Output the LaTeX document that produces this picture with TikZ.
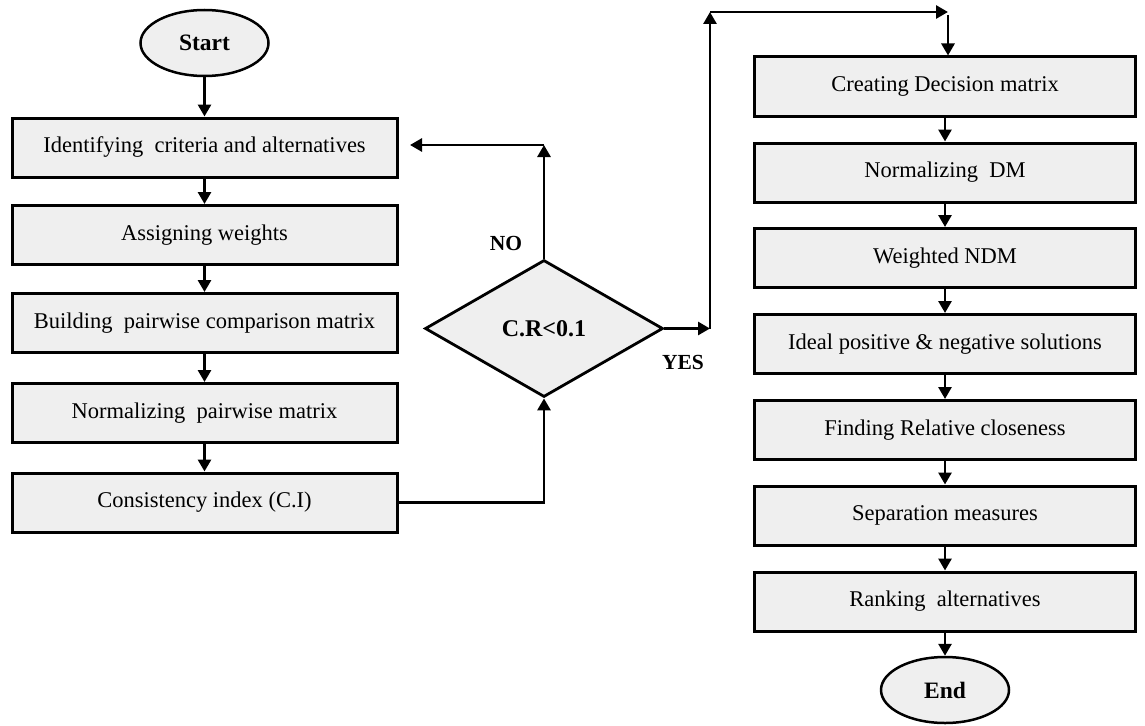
\documentclass[tikz,border=0pt]{standalone}
\usepackage{fontspec}
\setmainfont{Liberation Serif}
\usetikzlibrary{shapes.geometric,arrows.meta}
\definecolor{boxfill}{HTML}{EFEFEF}
\begin{document}
\begin{tikzpicture}[x=1pt,y=-1pt,
  procbox/.style={draw=black,line width=3pt,fill=boxfill,inner sep=0pt,
    minimum height=59pt,font=\fontsize{22.5}{26}\selectfont},
  leftbox/.style={procbox,minimum width=385pt},
  rightbox/.style={procbox,minimum width=381pt},
  term/.style={draw=black,line width=2.5pt,fill=boxfill,ellipse,inner sep=0pt,
    minimum width=128pt,minimum height=66pt,font=\fontsize{23.5}{27}\selectfont\bfseries},
  decision/.style={draw=black,line width=2.8pt,fill=boxfill,diamond,inner sep=0pt,
    aspect=1.737,minimum width=238pt,minimum height=137pt,font=\fontsize{24}{28}\selectfont\bfseries},
  lbl/.style={font=\fontsize{21.5}{25}\selectfont\bfseries},
  arr/.style={line width=2.8pt,-{Triangle[length=12pt,width=13pt]}},
  ln/.style={line width=2.8pt}]
\useasboundingbox (0,0) rectangle (1145,725);
% left column
\node[term] (start) at (204.5,43) {Start};
\node[leftbox] (b1) at (204.5,147.5) {Identifying\ \ criteria and alternatives};
\node[leftbox] (b2) at (204.5,235) {Assigning weights};
\node[leftbox] (b3) at (204.5,323) {Building\ \ pairwise comparison matrix};
\node[leftbox] (b4) at (204.5,413) {Normalizing\ \ pairwise matrix};
\node[leftbox] (b5) at (204.5,502.5) {Consistency index (C.I)};
% decision
\node[decision] (dia) at (544,328.5) {C.R{<}0.1};
\node[lbl] (no) at (506,243) {NO};
\node[lbl] (yes) at (683,362) {YES};
% right column
\node[rightbox] (r1) at (945,86.5) {Creating Decision matrix};
\node[rightbox] (r2) at (945,172.5) {Normalizing\ \ DM};
\node[rightbox] (r3) at (945,258) {Weighted NDM};
\node[rightbox] (r4) at (945,344) {Ideal positive \& negative solutions};
\node[rightbox] (r5) at (945,430) {Finding Relative closeness};
\node[rightbox] (r6) at (945,515.5) {Separation measures};
\node[rightbox] (r7) at (945,601.5) {Ranking\ \ alternatives};
\node[term] (end) at (945,690) {End};
% coordinates
\coordinate (cno) at (544,145);
\coordinate (noend) at (410,145);
\coordinate (yesend) at (710,328.5);
\coordinate (ctop) at (710,12);
\coordinate (ctr) at (948,12);
\coordinate (cdown) at (948,15);
% connectors left
\draw[arr] (start.south) -- (b1.north);
\draw[arr] (b1.south) -- (b2.north);
\draw[arr] (b2.south) -- (b3.north);
\draw[arr] (b3.south) -- (b4.north);
\draw[arr] (b4.south) -- (b5.north);
\draw[arr] (b5.east) -| (dia.south);
\draw[arr] (dia.north) -- (cno);
\draw[arr] (cno) -- (noend);
\draw[arr] (dia.east) -- (yesend);
\draw[arr] (yesend) -- (ctop);
\draw[arr] (ctop) -- (ctr);
\draw[arr] (cdown) -- (cdown |- r1.north);
% connectors right
\draw[arr] (r1.south) -- (r2.north);
\draw[arr] (r2.south) -- (r3.north);
\draw[arr] (r3.south) -- (r4.north);
\draw[arr] (r4.south) -- (r5.north);
\draw[arr] (r5.south) -- (r6.north);
\draw[arr] (r6.south) -- (r7.north);
\draw[arr] (r7.south) -- (end.north);
\end{tikzpicture}
\end{document}
